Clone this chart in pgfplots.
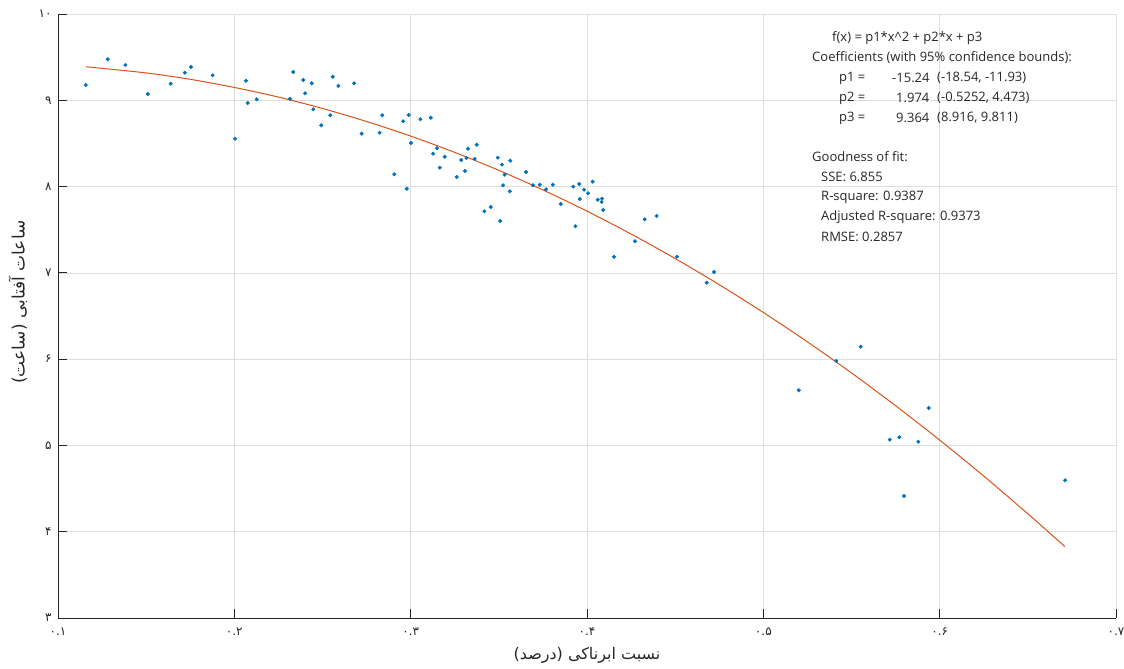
\documentclass[border=0pt]{standalone}
\usepackage{pgfplots}
\pgfplotsset{compat=1.18}
\usepackage{fontspec}
\setmainfont{Open Sans}
\newfontfamily\arabicfont[Script=Arabic]{DejaVu Sans}
\TeXXeTstate=1

\definecolor{matblue}{rgb}{0,0.447,0.741}
\definecolor{matorange}{rgb}{0.851,0.325,0.098}

% measured points (x = cloud ratio, y = sunshine hours)
\pgfplotstableread{
x y
0.1157 9.177
0.1282 9.475
0.1382 9.409
0.1509 9.073
0.1639 9.192
0.1719 9.320
0.1754 9.386
0.1877 9.290
0.2004 8.555
0.2066 9.227
0.2076 8.969
0.2127 9.011
0.2316 9.018
0.2334 9.328
0.2391 9.235
0.2401 9.081
0.2439 9.197
0.2448 8.896
0.2493 8.710
0.2544 8.826
0.2558 9.273
0.2590 9.166
0.2679 9.197
0.2722 8.613
0.2824 8.624
0.2839 8.826
0.2907 8.142
0.2957 8.757
0.2978 7.975
0.2989 8.830
0.3002 8.505
0.3055 8.780
0.3114 8.798
0.3127 8.381
0.3149 8.444
0.3165 8.219
0.3193 8.346
0.3261 8.111
0.3287 8.308
0.3308 8.181
0.3316 8.331
0.3325 8.439
0.3363 8.320
0.3375 8.485
0.3418 7.714
0.3454 7.763
0.3494 8.335
0.3508 7.601
0.3518 8.254
0.3524 8.015
0.3533 8.138
0.3562 7.945
0.3565 8.300
0.3654 8.169
0.3694 8.015
0.3732 8.022
0.3768 7.968
0.3806 8.022
0.3851 7.798
0.3922 7.999
0.3934 7.540
0.3956 8.030
0.3959 7.856
0.3983 7.964
0.4006 7.922
0.4032 8.057
0.4061 7.848
0.4085 7.860
0.4083 7.821
0.4092 7.729
0.4153 7.187
0.4272 7.366
0.4327 7.621
0.4395 7.659
0.4510 7.187
0.4679 6.886
0.4720 7.010
0.5201 5.639
0.5414 5.979
0.5552 6.144
0.5717 5.067
0.5771 5.094
0.5798 4.414
0.5879 5.043
0.5938 5.434
0.6711 4.596
}\datatable

% fitted quadratic, sampled
\pgfplotstableread{
x y
0.116 9.388
0.150 9.317
0.175 9.243
0.200 9.149
0.225 9.037
0.250 8.905
0.275 8.754
0.300 8.585
0.325 8.396
0.350 8.188
0.375 7.961
0.400 7.715
0.425 7.450
0.450 7.166
0.475 6.863
0.500 6.541
0.525 6.200
0.550 5.840
0.575 5.460
0.600 5.062
0.625 4.645
0.650 4.208
0.660 4.028
0.671 3.828
}\fittable

\begin{document}
\begin{tikzpicture}
\begin{axis}[
  name=ax,
  scale only axis,
  width=1058pt, height=604pt,
  xmin=0.1, xmax=0.7, ymin=3, ymax=10,
  axis x line*=bottom, axis y line*=left,
  axis line style={black!85, line width=0.9pt},
  tick align=inside,
  major tick length=9pt,
  tick style={black!85, line width=0.9pt},
  xtick={0.1,0.2,0.3,0.4,0.5,0.6,0.7},
  xticklabels={۰.۱,۰.۲,۰.۳,۰.۴,۰.۵,۰.۶,۰.۷},
  ytick={3,4,5,6,7,8,9,10},
  yticklabels={۳,۴,۵,۶,۷,۸,۹,۱۰},
  ticklabel style={font=\arabicfont\fontsize{12}{14}\selectfont, black!85},
  xticklabel style={yshift=-6pt},
  yticklabel style={xshift=-3pt},
  grid=major,
  grid style={black!13, line width=0.7pt},
  xlabel={\arabicfont\fontsize{16}{18}\selectfont\beginR نسبت ابرناکی (درصد)\endR},
  ylabel={\arabicfont\fontsize{17}{19}\selectfont\beginR ساعات آفتابی (ساعت)\endR},
  xlabel style={at={(axis description cs:0.5,-0.0613)}, anchor=center},
  ylabel style={at={(axis description cs:-0.038,0.523)}, anchor=center},
  label style={black!85},
  clip=false,
]
\addplot[only marks, mark=*, mark size=1.8pt, color=matblue] table {\datatable};
\addplot[no marks, color=matorange, line width=1pt, smooth] table {\fittable};
\end{axis}
\begin{scope}[shift={(ax.north west)}, every node/.style={anchor=west, inner sep=0pt, font=\fontsize{13}{15}\selectfont, black!85}]
\node at (774pt,-24pt) {f(x) = p1*x\^{}2 + p2*x + p3};
\node at (754pt,-44pt) {Coefficients (with 95\% confidence bounds):};
\node at (781pt,-64pt) {p1 =};
\node at (834pt,-64pt) {-15.24};
\node at (879pt,-64pt) {(-18.54, -11.93)};
\node at (781pt,-84pt) {p2 =};
\node at (838pt,-84pt) {1.974};
\node at (879pt,-84pt) {(-0.5252, 4.473)};
\node at (781pt,-104pt) {p3 =};
\node at (838pt,-104pt) {9.364};
\node at (879pt,-104pt) {(8.916, 9.811)};
\node at (754pt,-143pt) {Goodness of fit:};
\node at (763pt,-163pt) {SSE: 6.855};
\node at (763pt,-183pt) {R-square: 0.9387};
\node at (763pt,-203pt) {Adjusted R-square: 0.9373};
\node at (763pt,-223pt) {RMSE: 0.2857};
\end{scope}
\pgfresetboundingbox
\path[use as bounding box] ([shift={(-58pt,-50pt)}]ax.south west) rectangle ([shift={(8pt,14pt)}]ax.north east);
\end{tikzpicture}
\end{document}
